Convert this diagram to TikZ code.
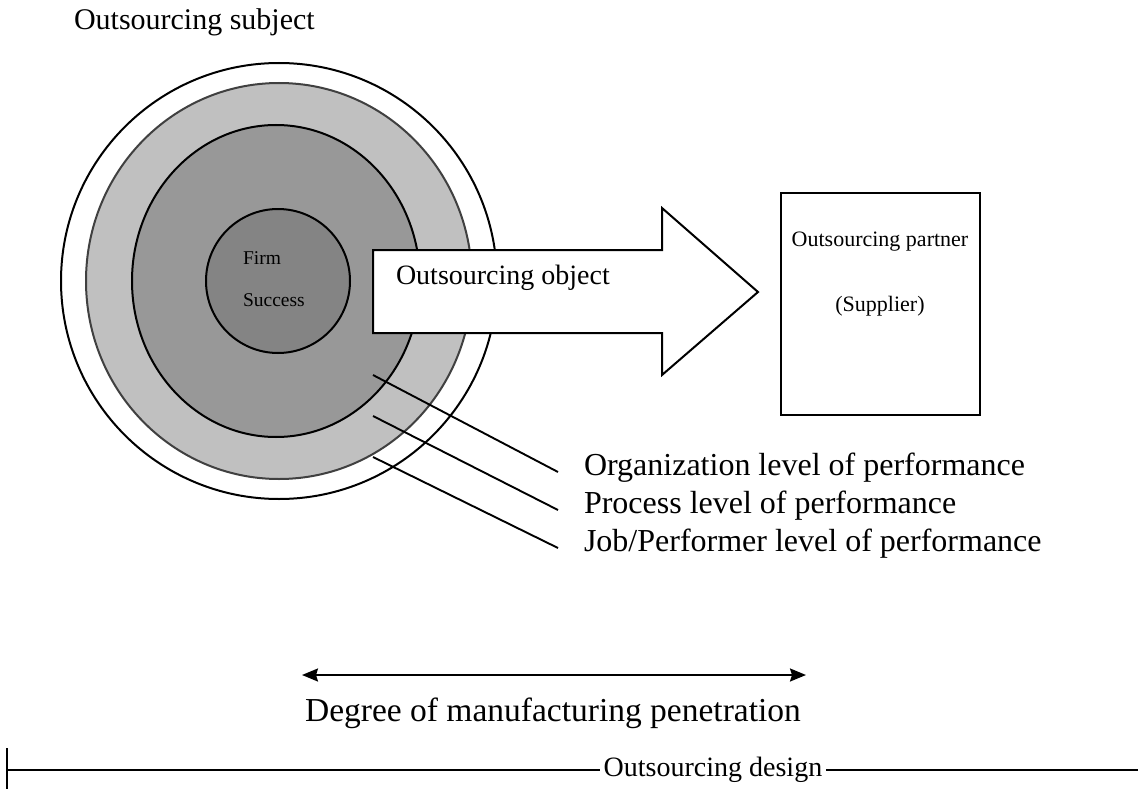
\documentclass[tikz,border=0pt]{standalone}
\usepackage{fontspec}
\setmainfont{Liberation Serif}
\usetikzlibrary{shapes.geometric,arrows.meta}
\definecolor{ringlight}{HTML}{C0C0C0}
\definecolor{ringmid}{HTML}{989898}
\definecolor{ringcore}{HTML}{848484}
\definecolor{ringedge}{HTML}{404040}
\begin{document}
\begin{tikzpicture}[x=1pt,y=-1pt,line width=2pt,
  ring/.style={ellipse,draw,inner sep=0pt},
  txt/.style={inner sep=0pt,text=black},
  lbl/.style={txt,anchor=west,font=\fontsize{32}{38}\selectfont},
  leader/.style={line width=1.9pt}]
\useasboundingbox (0,0) rectangle (1138,789);

% title
\node[txt,anchor=west,font=\fontsize{30}{36}\selectfont] (subject) at (73,22) {Outsourcing subject};

% rings
\node[ring,fill=white,minimum width=436pt,minimum height=436pt] (outer) at (279,281) {};
\node[ring,fill=ringlight,draw=ringedge,minimum width=386pt,minimum height=396pt] (orgring) at (279,281) {};
\node[ring,fill=ringmid,minimum width=288pt,minimum height=312pt] (procring) at (276,281) {};
\node[ring,fill=ringcore,minimum width=144pt,minimum height=144pt] (core) at (278,281) {};
\node[txt,anchor=west,font=\fontsize{19.5}{23}\selectfont] (firm) at (242,258) {Firm};
\node[txt,anchor=west,font=\fontsize{19.5}{23}\selectfont] (success) at (242,300) {Success};

% block arrow
\draw[fill=white] (373,250) -- (662,250) -- (662,208) -- (758,292) -- (662,375) -- (662,333) -- (373,333) -- cycle;
\node[txt,anchor=west,font=\fontsize{28}{34}\selectfont] (object) at (395,278) {Outsourcing object};

% partner box
\node[draw,minimum width=199pt,minimum height=222pt,inner sep=0pt] (box) at (880.5,304) {};
\node[txt,font=\fontsize{22}{26}\selectfont] (partner) at (880,242) {Outsourcing partner};
\node[txt,font=\fontsize{22}{26}\selectfont] (supplier) at (880,306) {(Supplier)};

% level labels and leaders
\node[lbl] (orglbl) at (583,468) {Organization level of performance};
\node[lbl] (proclbl) at (583,506) {Process level of performance};
\node[lbl] (joblbl) at (583,544) {Job/Performer level of performance};
\coordinate (l1s) at (373,375);
\coordinate (l2s) at (373,416);
\coordinate (l3s) at (373,457);
\coordinate (l1e) at (558,472);
\coordinate (l2e) at (558,510);
\coordinate (l3e) at (558,548);
\draw[leader] (l1s) -- (l1e);
\draw[leader] (l2s) -- (l2e);
\draw[leader] (l3s) -- (l3e);

% degree arrow
\coordinate (dl) at (302,675);
\coordinate (dr) at (806,675);
\draw[{Stealth[length=16pt,width=13pt,inset=2pt]}-{Stealth[length=16pt,width=13pt,inset=2pt]}] (dl) -- (dr);
\node[txt,font=\fontsize{33.5}{40}\selectfont] (degree) at (553,713) {Degree of manufacturing penetration};

% outsourcing design line
\node[txt,font=\fontsize{28}{34}\selectfont] (design) at (713,770) {Outsourcing design};
\coordinate (dtop) at (7,748);
\coordinate (dbot) at (7,789);
\coordinate (dleft) at (7,770);
\coordinate (dright) at (1138,770);
\draw (dtop) -- (dbot);
\draw (dleft) -- ([xshift=-3pt]design.west);
\draw ([xshift=3pt]design.east) -- (dright);
\end{tikzpicture}
\end{document}
